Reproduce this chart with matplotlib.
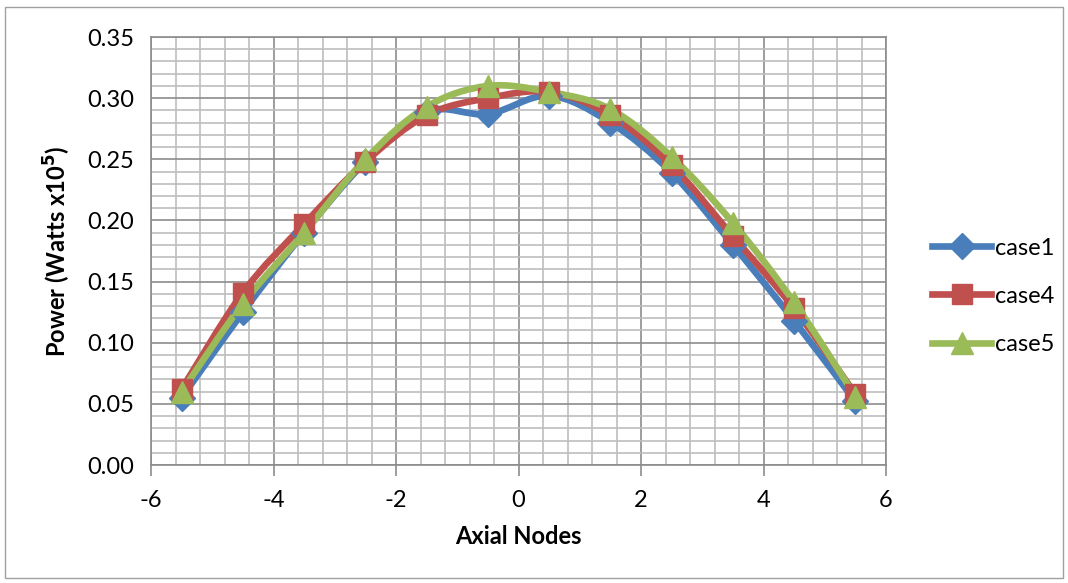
import numpy as np
import matplotlib.pyplot as plt
from matplotlib.path import Path
from matplotlib.patches import PathPatch, Rectangle
from matplotlib.lines import Line2D
from matplotlib.ticker import MultipleLocator

plt.rcParams['font.family'] = ['Lato', 'DejaVu Sans']
plt.rcParams['axes.unicode_minus'] = False

# power per axial node
nodes = [-5.5, -4.5, -3.5, -2.5, -1.5, -0.5, 0.5, 1.5, 2.5, 3.5, 4.5, 5.5]
case1 = [0.055, 0.125, 0.190, 0.248, 0.289, 0.287, 0.302, 0.280, 0.239, 0.180, 0.118, 0.052]
case4 = [0.062, 0.141, 0.197, 0.248, 0.286, 0.300, 0.305, 0.286, 0.245, 0.187, 0.128, 0.058]
case5 = [0.060, 0.132, 0.190, 0.250, 0.293, 0.310, 0.305, 0.291, 0.252, 0.198, 0.133, 0.056]

labels = ['case1', 'case4', 'case5']
colors = ['#4A7EBB', '#C0504D', '#9BBB59']
markers = ['D', 's', '^']
msizes = [13, 15, 16]


def smooth_path(x, y):
    # Catmull-Rom style bezier through the points (like a spreadsheet "smoothed line")
    p = np.column_stack([x, y])
    pts = np.vstack([p[0], p, p[-1]])
    verts = [p[0]]
    codes = [Path.MOVETO]
    for i in range(1, len(pts) - 2):
        p0, p1, p2, p3 = pts[i - 1], pts[i], pts[i + 1], pts[i + 2]
        c1 = p1 + (p2 - p0) / 6.0
        c2 = p2 - (p3 - p1) / 6.0
        verts += [c1, c2, p2]
        codes += [Path.CURVE4] * 3
    return Path(verts, codes)


fig = plt.figure(figsize=(10.68, 5.83), dpi=100)
ax = fig.add_axes([0.1414, 0.2024, 0.8296 - 0.1414, 0.9365 - 0.2024])

for vals, c, m, ms in zip([case1, case4, case5], colors, markers, msizes):
    ax.add_patch(PathPatch(smooth_path(nodes, vals), facecolor='none',
                           edgecolor=c, linewidth=4.8, capstyle='round',
                           joinstyle='round', zorder=3))
    ax.plot(nodes, vals, linestyle='none', marker=m, markersize=ms,
            color=c, markeredgecolor=c, zorder=4)

ax.set_xlim(-6, 6)
ax.set_ylim(0, 0.35)
ax.xaxis.set_major_locator(MultipleLocator(2))
ax.xaxis.set_minor_locator(MultipleLocator(0.4))
ax.yaxis.set_major_locator(MultipleLocator(0.05))
ax.yaxis.set_minor_locator(MultipleLocator(0.01))
ax.yaxis.set_major_formatter(plt.FormatStrFormatter('%.2f'))

ax.grid(which='minor', color='#BEBEBE', linewidth=1.2, zorder=0)
ax.grid(which='major', color='#8C8C8C', linewidth=1.2, zorder=1)
ax.set_axisbelow(True)

ax.tick_params(axis='x', which='major', length=8, width=1.2, color='#8C8C8C',
               labelsize=17, pad=10)
ax.tick_params(axis='x', which='minor', length=0)
ax.tick_params(axis='y', which='both', length=0, labelsize=17, pad=12)
for s in ax.spines.values():
    s.set_color('#8C8C8C')
    s.set_linewidth(1.2)

ax.set_xlabel('Axial Nodes', fontsize=17, fontweight='bold', labelpad=10)
ax.set_ylabel('Power (Watts x10$^{\\mathbf{5}}$)', fontsize=17,
              fontweight='bold', labelpad=10)

handles = [Line2D([0], [0], color=c, linewidth=4.8, marker=m, markersize=ms,
                  markeredgecolor=c)
           for c, m, ms in zip(colors, markers, msizes)]
fig.legend(handles, labels, loc='center left', bbox_to_anchor=(0.853, 0.492),
           frameon=False, fontsize=17, handlelength=2.5, handletextpad=0.15,
           labelspacing=1.15)

# chart area border
fig.patches.append(Rectangle((0.005, 0.008), 0.99, 0.98, transform=fig.transFigure,
                             fill=False, edgecolor='#A0A0A0', linewidth=1))

fig.savefig('out.png', dpi=100)
